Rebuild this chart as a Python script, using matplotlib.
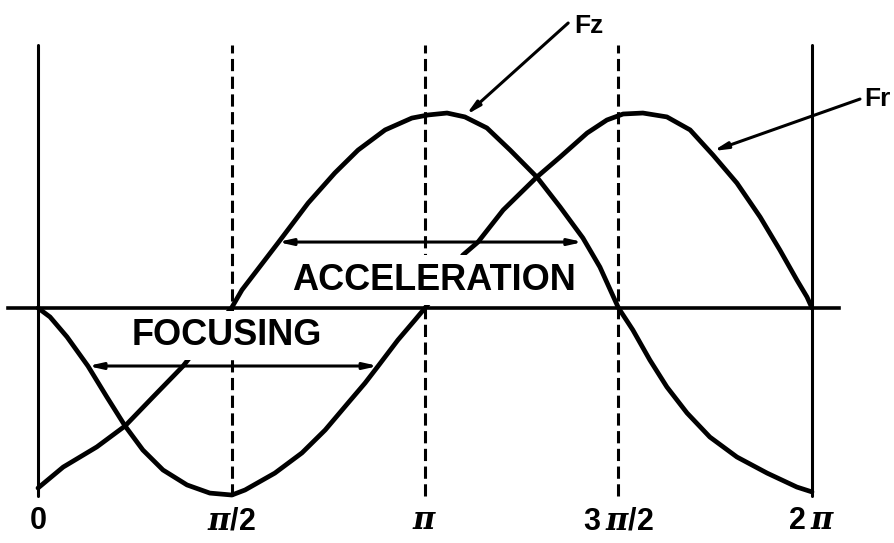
import numpy as np
import matplotlib
matplotlib.use('Agg')
import matplotlib.pyplot as plt

plt.rcParams['font.family'] = ['Liberation Sans', 'DejaVu Sans']
# sans bold digits with a serif italic pi in the phase labels
plt.rcParams['mathtext.fontset'] = 'custom'
plt.rcParams['mathtext.rm'] = 'Liberation Sans:bold'
plt.rcParams['mathtext.bf'] = 'Liberation Sans:bold'
plt.rcParams['mathtext.it'] = 'DejaVu Serif:italic:bold'

## data (phase in units of pi, force normalised to peak)

phase_fz = [0.000, 0.065, 0.152, 0.225, 0.297, 0.375, 0.393, 0.500, 0.527, 0.620,
	0.698, 0.767, 0.827, 0.897, 0.966, 1.008, 1.057, 1.103, 1.160, 1.220,
	1.289, 1.349, 1.408, 1.452, 1.500, 1.537, 1.581, 1.625, 1.677, 1.736,
	1.806, 1.884, 1.961, 2.000]
fz = [-0.928, -0.820, -0.716, -0.608, -0.459, -0.299, -0.253, 0.000, 0.093, 0.335,
	0.541, 0.696, 0.814, 0.918, 0.979, 0.995, 1.005, 0.985, 0.928, 0.814,
	0.675, 0.521, 0.361, 0.211, 0.000, -0.113, -0.268, -0.407, -0.541, -0.665,
	-0.768, -0.851, -0.923, -0.948]

phase_fr = [0.000, 0.031, 0.075, 0.129, 0.178, 0.225, 0.271, 0.323, 0.385, 0.444,
	0.501, 0.535, 0.612, 0.682, 0.742, 0.801, 0.845, 0.879, 0.930, 0.974,
	1.000, 1.052, 1.098, 1.137, 1.202, 1.289, 1.349, 1.419, 1.470, 1.512,
	1.563, 1.625, 1.685, 1.744, 1.806, 1.866, 1.917, 1.961, 1.987, 2.000]
fr = [0.000, -0.046, -0.149, -0.299, -0.459, -0.608, -0.732, -0.835, -0.912, -0.954,
	-0.964, -0.938, -0.851, -0.747, -0.629, -0.490, -0.387, -0.299, -0.165, -0.062,
	0.000, 0.134, 0.273, 0.340, 0.505, 0.675, 0.778, 0.902, 0.969, 1.000,
	1.005, 0.985, 0.918, 0.789, 0.644, 0.469, 0.299, 0.144, 0.057, 0.000]

tick_pos = [0, 0.5, 1, 1.5, 2]
tick_labels = [r'$\mathbf{0}$', r'$\pi\mathbf{/2}$', r'$\pi$', r'$\mathbf{3}\,\pi\mathbf{/2}$',
	r'$\mathbf{2}\,\pi$']

# phase ranges of the two regions (ends of the double arrows)
focus_range = [0.129, 0.879]
focus_level = -0.299
accel_range = [0.620, 1.408]
accel_level = 0.340

## figure

fig = plt.figure(figsize=(8.94, 5.43), dpi=100)
ax = fig.add_axes([0, 0, 1, 1])
ax.set_xlim(-0.0982, 2.2119)
ax.set_ylim(-1.2113, 1.5876)
ax.axis('off')

line_top = 1.356
line_bot = -0.969

# boundary lines at 0 and 2pi, dashed at the quarter points
for xp in tick_pos:
	if xp in (0, 2):
		ax.plot([xp, xp], [line_bot, line_top], color='k', lw=2.2,
			solid_capstyle='round', zorder=1)
	else:
		l, = ax.plot([xp, xp], [line_bot, line_top], color='k', lw=2.2, zorder=1)
		l.set_dashes((4, 1.8))

ax.plot([-0.0775, 2.07], [0, 0], color='k', lw=2.6, zorder=4)

ax.plot(phase_fz, fz, color='k', lw=3.4, solid_joinstyle='round',
	solid_capstyle='round', zorder=2)
ax.plot(phase_fr, fr, color='k', lw=3.4, solid_joinstyle='round',
	solid_capstyle='round', zorder=2)

box = dict(boxstyle='square,pad=0.2', fc='white', ec='none')
ax.text(np.mean(focus_range) - 0.017, -0.141, 'FOCUSING', fontsize=26,
	fontweight='bold', ha='center', va='center', bbox=box, zorder=3)
ax.text(1.022, 0.144, 'ACCELERATION', fontsize=26, fontweight='bold',
	ha='center', va='center', bbox=box, zorder=3)

dbl = dict(arrowstyle='<|-|>,head_length=0.8,head_width=0.18', color='k',
	lw=2.2, shrinkA=0, shrinkB=0)
ax.annotate('', xy=(focus_range[0], focus_level), xytext=(focus_range[1], focus_level),
	arrowprops=dbl, zorder=5)
ax.annotate('', xy=(accel_range[0], accel_level), xytext=(accel_range[1], accel_level),
	arrowprops=dbl, zorder=5)

sgl = dict(arrowstyle='-|>,head_length=0.8,head_width=0.18', color='k',
	lw=2.2, shrinkA=0, shrinkB=0)
ax.annotate('', xy=(1.106, 0.995), xytext=(1.370, 1.469), arrowprops=sgl, zorder=5)
ax.annotate('', xy=(1.744, 0.809), xytext=(2.124, 1.077), arrowprops=sgl, zorder=5)
ax.text(1.386, 1.454, 'Fz', fontsize=19, fontweight='bold', ha='left', va='center')
ax.text(2.135, 1.077, 'Fr', fontsize=19, fontweight='bold', ha='left', va='center')

for xp, lab in zip(tick_pos, tick_labels):
	ax.text(xp, -1.098, lab, fontsize=22, ha='center', va='center')

fig.savefig('out.png', dpi=100, facecolor='white')
